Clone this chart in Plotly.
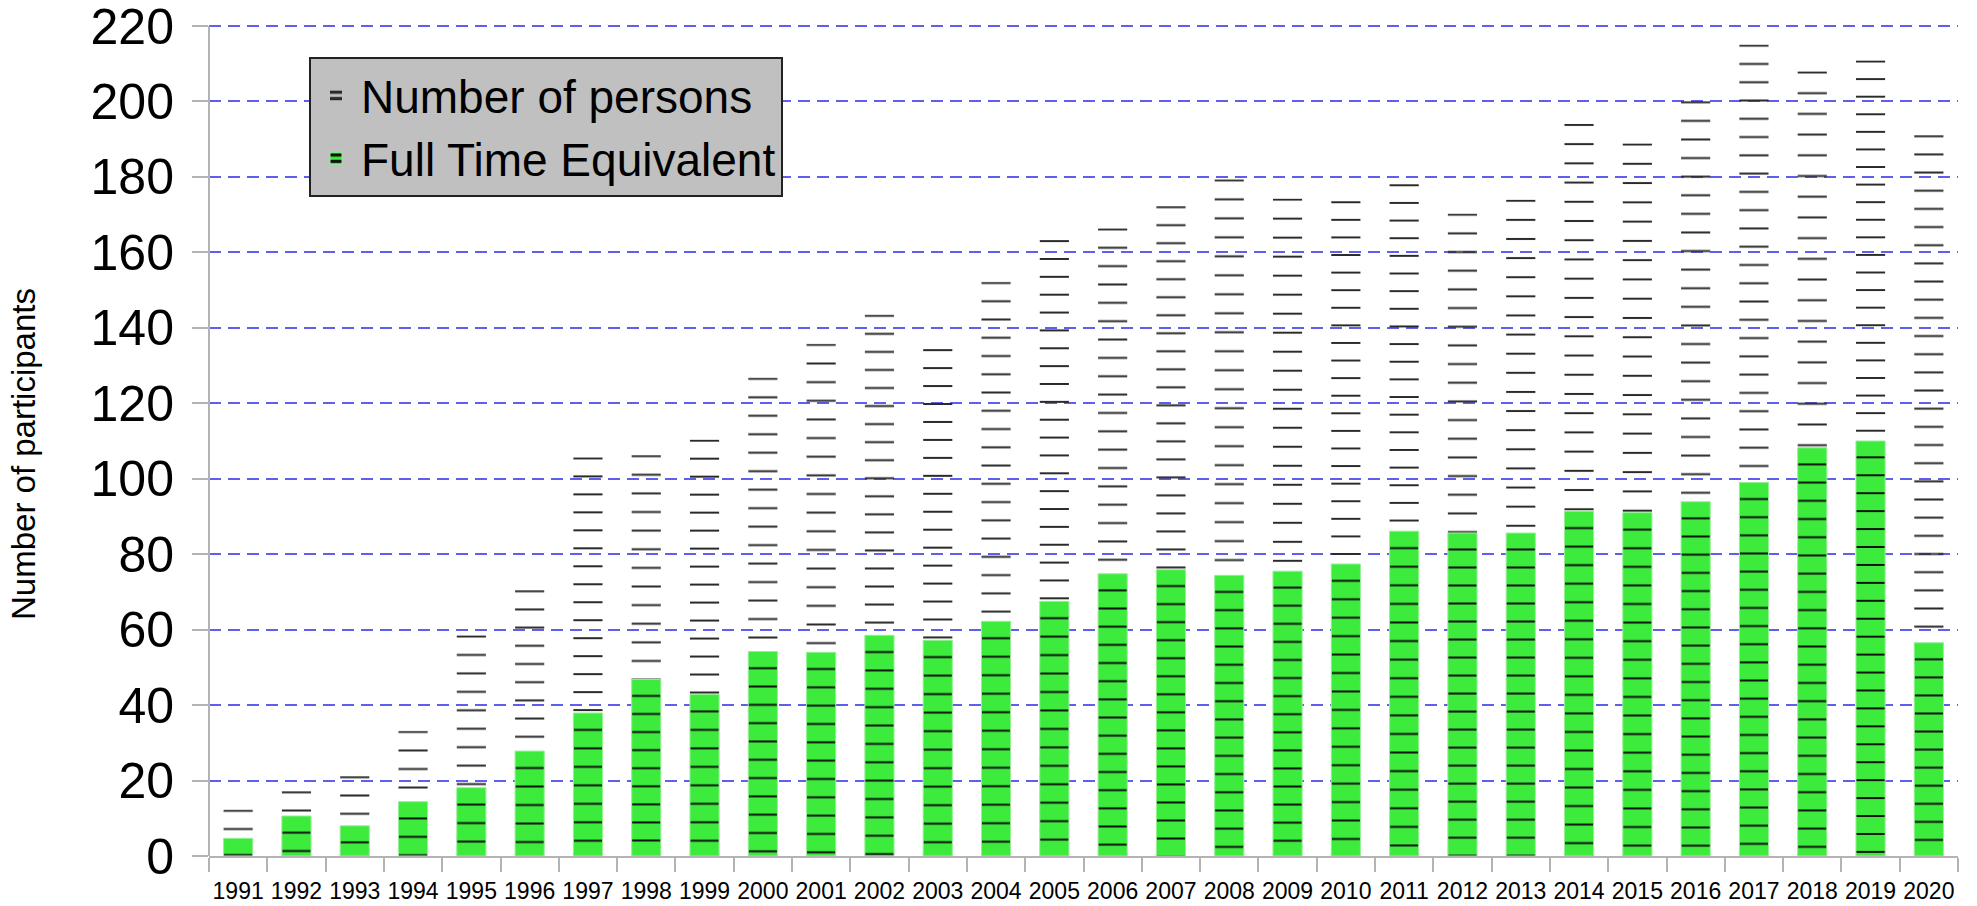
import plotly.graph_objects as go

years = [str(y) for y in range(1991, 2021)]
fte = [4.7, 10.6, 8.0, 14.4, 18.1, 27.8, 37.9, 46.8, 42.8, 54.2, 54.0, 58.5, 57.2, 62.2, 67.5,
       74.8, 75.9, 74.4, 75.5, 77.4, 86.1, 85.6, 85.6, 91.4, 91.0, 93.9, 99.0, 108.2, 110.0, 56.5]
persons = [12.3, 17.2, 21.2, 33.2, 58.5, 70.5, 105.7, 106.3, 110.4, 126.8, 135.8, 143.5, 134.4, 152.2, 163.3,
           166.4, 172.3, 179.4, 174.3, 173.6, 178.1, 170.3, 174.0, 194.1, 188.9, 200.1, 215.1, 208.0, 210.9, 191.1]
y_ticks = list(range(0, 221, 20))
AXIS_MAX = 220
Y_TITLE = "Number of participants"

GREEN = "#3deb3d"
GRID = "rgb(95,95,235)"
AXIS = "#b3b3b3"
FONT = "Liberation Sans, Arial, sans-serif"

# layout geometry (pixels)
W, H = 1977, 906
M_L, M_R, M_T, M_B = 209, 19, 0, 50
GAP_TOP = 26                      # white space above the 220 gridline
PLOT_W = W - M_L - M_R
PLOT_H = H - M_T - M_B
PX = (PLOT_H - GAP_TOP) / AXIS_MAX  # pixels per unit
Y_TOP = PLOT_H / PX                 # axis value at the top edge of the plot area

# hatch style: horizontal lines every ~18.3 px, 2 px thick, anchored to each bar top
HATCH = 18.3
LINE_W = 2.0


def hatch_style(values, offset_px):
    sizes, solid = [], []
    for v in values:
        y = (Y_TOP - v) * PX + offset_px
        k = max(0, round(y / HATCH - 0.5))
        s = y / (k + 0.5)
        sizes.append(s)
        solid.append(min(1.0, LINE_W / s))
    return sizes, solid


p_size, p_sol = hatch_style(persons, 1.2)
f_size, f_sol = hatch_style(fte, -1.6)

fig = go.Figure()
fig.add_trace(go.Bar(
    x=years, y=persons, name="Number of persons", width=0.5,
    marker=dict(color="rgba(0,0,0,0)", line=dict(width=0),
                pattern=dict(shape="-", size=p_size, solidity=p_sol, fgcolor="#2a2a2a",
                             bgcolor="rgba(0,0,0,0)", fgopacity=1)),
    legendgroup="a",
))
fig.add_trace(go.Bar(
    x=years, y=fte, name="Full Time Equivalent", width=0.5,
    marker=dict(color=GREEN, line=dict(width=1, color="rgb(150,240,150)"),
                pattern=dict(shape="-", size=f_size, solidity=f_sol, fgcolor="#111111",
                             bgcolor=GREEN, fgopacity=1)),
    legendgroup="b",
))

# y axis line only up to the top tick
fig.add_shape(type="line", xref="paper", yref="y", x0=0, x1=0, y0=0, y1=AXIS_MAX,
              line=dict(color=AXIS, width=2), layer="above")

# y axis title
fig.add_annotation(text=Y_TITLE, textangle=-90, showarrow=False,
                   xref="paper", yref="paper",
                   x=-(M_L - 23) / PLOT_W, y=(PLOT_H - 454) / PLOT_H,
                   xanchor="center", yanchor="middle",
                   font=dict(size=33, family=FONT, color="black"))

fig.update_layout(
    width=W, height=H,
    margin=dict(l=M_L, r=M_R, t=M_T, b=M_B, autoexpand=False),
    barmode="overlay",
    plot_bgcolor="white", paper_bgcolor="white",
    font=dict(family=FONT, color="black"),
    legend=dict(
        x=(309 - M_L) / PLOT_W, y=(PLOT_H - 57) / PLOT_H, xanchor="left", yanchor="top",
        bgcolor="#c0c0c0", bordercolor="#222222", borderwidth=2,
        font=dict(size=46, family=FONT, color="black"),
        tracegroupgap=0, itemwidth=40,
    ),
    showlegend=True,
)
fig.update_xaxes(
    type="category", range=[-0.5, 29.5],
    showline=True, linecolor=AXIS, linewidth=2,
    ticks="outside", tickson="boundaries", ticklen=14, tickwidth=2, tickcolor=AXIS,
    tickfont=dict(size=23, family=FONT, color="black"), ticklabelstandoff=13,
    tickangle=0, ticklabeloverflow="allow",
    showgrid=False,
)
fig.update_yaxes(
    range=[0, Y_TOP], tickvals=y_ticks,
    showline=False,
    ticks="outside", ticklen=16, tickwidth=2, tickcolor=AXIS,
    tickfont=dict(size=50, family=FONT, color="black"), ticklabelstandoff=8,
    ticklabeloverflow="allow",
    showgrid=True, gridcolor=GRID, gridwidth=1.5, griddash="12px,7px",
    zeroline=False,
)

fig.write_html("out.html", config={"displayModeBar": False},
               post_script="document.body.style.margin='0';")
